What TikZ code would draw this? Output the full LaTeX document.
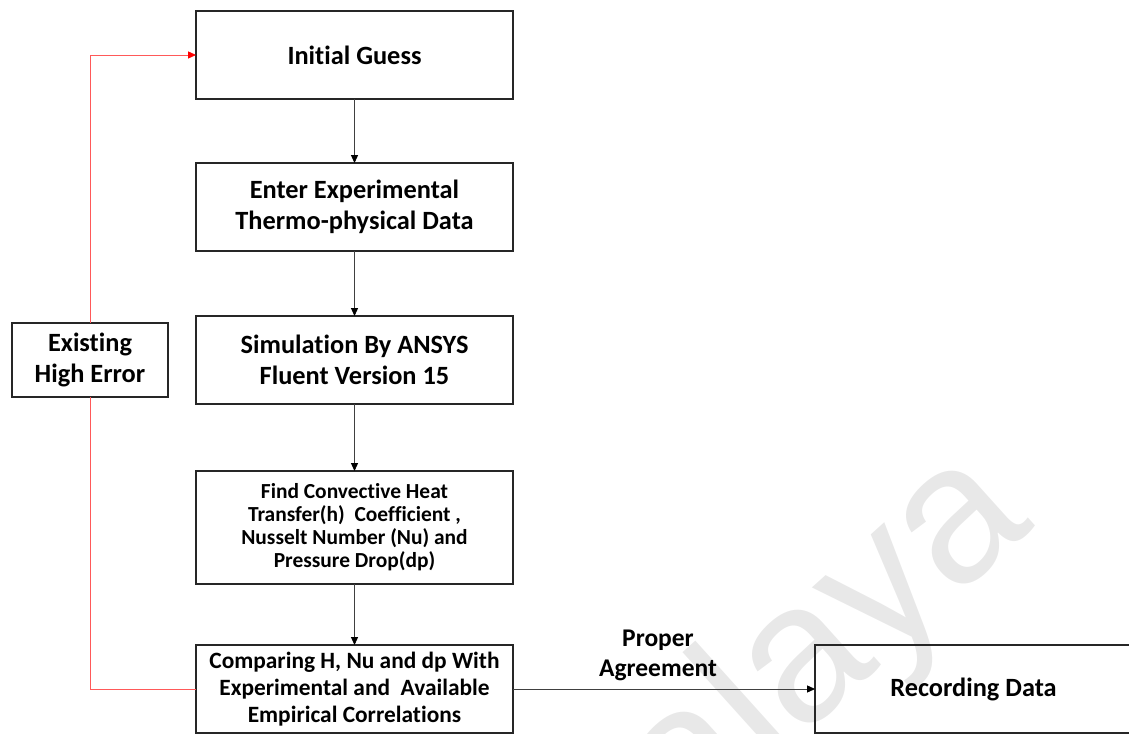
\documentclass[tikz,border=0pt]{standalone}
\usepackage{fontspec}
\setmainfont[Ligatures=NoCommon]{Carlito}
\newfontfamily\markfont{Liberation Sans}
\usetikzlibrary{positioning}
\usetikzlibrary{arrows.meta}

\begin{document}
\begin{tikzpicture}
[   on grid,
    font = \bfseries\fontsize{15}{18}\selectfont,
    inner sep=1pt,
    outer sep=0pt,
    node distance=3.04cm,
    box/.style={draw=black!85, line width=0.85pt, minimum width=6.34cm, minimum height=1.76cm, align=center},
    link/.style={draw=black!75, line width=0.5pt, -{Triangle[length=4.5pt,width=4pt,color=black]}},
    back/.style={draw=red!65, line width=0.5pt}
]
\useasboundingbox (0,0) rectangle (22.58,14.66);

% watermark
\node[rotate=42, text=black!9, font=\markfont\fontsize{112}{112}\selectfont] (mark) at (16.55,1.75) {alaya};

\node[box] (guess) at (7.09,13.56) {Initial Guess};
\node[box, below=of guess] (enter) {Enter Experimental\\Thermo-physical Data};
\node[box, below=3.06cm of enter] (simul) {Simulation By ANSYS\\Fluent Version 15};
\node[box, below=3.35cm of simul, minimum height=2.26cm,
      font=\bfseries\fontsize{12.2}{13.1}\selectfont] (coeff)
      {Find Convective Heat\\Transfer(h)~ Coefficient ,\\Nusselt Number (Nu) and\\Pressure Drop(dp)};
\node[box, below=3.23cm of coeff, font=\bfseries\fontsize{13.3}{15.3}\selectfont] (compare)
      {Comparing H, Nu and dp With\\Experimental and~ Available\\Empirical Correlations};
\node[box, right=12.38cm of compare] (record) {Recording Data};
\node[box, left=5.29cm of simul, minimum width=3.12cm, minimum height=1.48cm] (higherr) {Existing\\High Error};

\draw[link] (guess) -- (enter);
\draw[link] (enter) -- (simul);
\draw[link] (simul) -- (coeff);
\draw[link] (coeff) -- (compare);
\draw[link] (compare) -- node[above=0.12cm, xshift=-0.12cm, align=center,
      font=\bfseries\fontsize{14.5}{17.5}\selectfont] (agree) {Proper\\Agreement} (record);

% feedback loop
\draw[back] (compare.west) -| (higherr.south);
\draw[back, -{Triangle[length=4.5pt,width=4pt,color=red]}] (higherr.north) |- (guess.west);
\end{tikzpicture}
\end{document}
